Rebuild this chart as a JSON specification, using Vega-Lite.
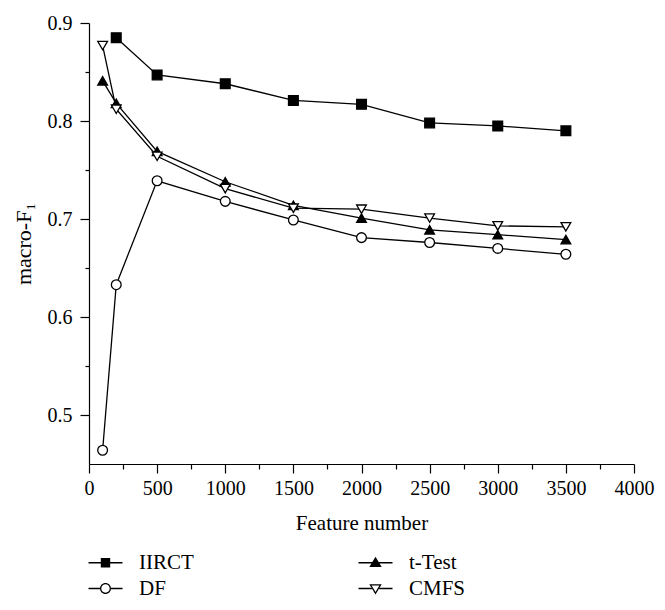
{
  "$schema": "https://vega.github.io/schema/vega-lite/v6.json",
  "autosize": {"type": "none"},
  "padding": {"left": 89, "top": 23, "right": 31, "bottom": 146},
  "width": 545,
  "height": 441,
  "background": "white",
  "config": {
    "view": {"stroke": null},
    "font": "Liberation Serif",
    "axis": {
      "domainColor": "black", "domainWidth": 1.2, "tickColor": "black", "tickWidth": 1.2,
      "labelColor": "black", "labelFont": "Liberation Serif", "labelFontSize": 20,
      "titleColor": "black", "titleFont": "Liberation Serif", "titleFontSize": 21, "titleFontWeight": "normal",
      "grid": false
    },
    "legend": {"labelFont": "Liberation Serif", "labelFontSize": 21, "labelColor": "black"}
  },
  "data": {"values": [
    {"n": 200, "v": 0.885, "s": "IIRCT"},
    {"n": 500, "v": 0.847, "s": "IIRCT"},
    {"n": 1000, "v": 0.838, "s": "IIRCT"},
    {"n": 1500, "v": 0.821, "s": "IIRCT"},
    {"n": 2000, "v": 0.817, "s": "IIRCT"},
    {"n": 2500, "v": 0.798, "s": "IIRCT"},
    {"n": 3000, "v": 0.795, "s": "IIRCT"},
    {"n": 3500, "v": 0.790, "s": "IIRCT"},
    {"n": 100, "v": 0.841, "s": "t-Test"},
    {"n": 200, "v": 0.818, "s": "t-Test"},
    {"n": 500, "v": 0.769, "s": "t-Test"},
    {"n": 1000, "v": 0.738, "s": "t-Test"},
    {"n": 1500, "v": 0.714, "s": "t-Test"},
    {"n": 2000, "v": 0.701, "s": "t-Test"},
    {"n": 2500, "v": 0.689, "s": "t-Test"},
    {"n": 3000, "v": 0.684, "s": "t-Test"},
    {"n": 3500, "v": 0.679, "s": "t-Test"},
    {"n": 100, "v": 0.464, "s": "DF"},
    {"n": 200, "v": 0.633, "s": "DF"},
    {"n": 500, "v": 0.739, "s": "DF"},
    {"n": 1000, "v": 0.718, "s": "DF"},
    {"n": 1500, "v": 0.699, "s": "DF"},
    {"n": 2000, "v": 0.681, "s": "DF"},
    {"n": 2500, "v": 0.676, "s": "DF"},
    {"n": 3000, "v": 0.670, "s": "DF"},
    {"n": 3500, "v": 0.664, "s": "DF"},
    {"n": 100, "v": 0.877, "s": "CMFS"},
    {"n": 200, "v": 0.812, "s": "CMFS"},
    {"n": 500, "v": 0.764, "s": "CMFS"},
    {"n": 1000, "v": 0.731, "s": "CMFS"},
    {"n": 1500, "v": 0.711, "s": "CMFS"},
    {"n": 2000, "v": 0.710, "s": "CMFS"},
    {"n": 2500, "v": 0.701, "s": "CMFS"},
    {"n": 3000, "v": 0.693, "s": "CMFS"},
    {"n": 3500, "v": 0.692, "s": "CMFS"}
  ]},
  "encoding": {
    "x": {
      "field": "n", "type": "quantitative", "title": "Feature number",
      "scale": {"domain": [0, 4000], "nice": false, "zero": false},
      "axis": {
        "values": [0,250,500,750,1000,1250,1500,1750,2000,2250,2500,2750,3000,3250,3500,3750,4000],
        "labelExpr": "datum.value % 500 === 0 ? format(datum.value, 'd') : ''",
        "tickSize": {"condition": {"test": "datum.value % 500 !== 0", "value": 5}, "value": 9},
        "labelPadding": 5, "labelFlush": false, "labelOverlap": false, "titlePadding": 14
      }
    },
    "y": {
      "field": "v", "type": "quantitative", "title": "macro-F₁",
      "scale": {"domain": [0.45, 0.9], "nice": false, "zero": false},
      "axis": {
        "values": [0.5,0.55,0.6,0.65,0.7,0.75,0.8,0.85,0.9],
        "labelExpr": "round(datum.value*100) % 10 === 0 ? format(datum.value, '.1f') : ''",
        "tickSize": {"condition": {"test": "round(datum.value*100) % 10 !== 0", "value": 4}, "value": 9},
        "labelPadding": 8, "labelFlush": false, "labelOverlap": false, "titlePadding": 12, "titleFontSize": 22
      }
    }
  },
  "layer": [
    {
      "mark": {"type": "line", "color": "black", "strokeWidth": 1.3},
      "encoding": {"detail": {"field": "s"}}
    },
    {
      "mark": {"type": "point", "filled": false, "stroke": "black", "strokeWidth": 1.3, "opacity": 1, "size": 95},
      "encoding": {
        "shape": {
          "field": "s", "type": "nominal", "legend": null,
          "scale": {"domain": ["IIRCT", "t-Test", "DF", "CMFS"], "range": ["square", "triangle-up", "circle", "triangle-down"]}
        },
        "fill": {
          "field": "s", "type": "nominal", "legend": null,
          "scale": {"domain": ["IIRCT", "t-Test", "DF", "CMFS"], "range": ["black", "black", "white", "white"]}
        }
      }
    },
    {
      "mark": {"type": "point", "filled": true, "fill": "black", "stroke": "black", "strokeWidth": 1.3, "opacity": 1, "size": 0},
      "encoding": {
        "shape": {
          "field": "s", "type": "nominal", "title": null,
          "scale": {"domain": ["IIRCT", "t-Test", "DF", "CMFS"], "range": [
            "M-1.7,-0.065H-0.45V0.065H-1.7ZM0.45,-0.065H1.7V0.065H0.45ZM-0.47,-0.47H0.47V0.47H-0.47Z",
            "M-1.7,-0.065H-0.3V0.065H-1.7ZM0.3,-0.065H1.7V0.065H0.3ZM0,-0.6L0.62,0.42L-0.62,0.42Z",
            "M-1.7,-0.065H-0.55V0.065H-1.7ZM0.55,-0.065H1.7V0.065H0.55ZM0.55,0A0.55,0.55 0 1,1 -0.55,0A0.55,0.55 0 1,1 0.55,0ZM0.42,0A0.42,0.42 0 1,0 -0.42,0A0.42,0.42 0 1,0 0.42,0Z",
            "M-1.7,-0.065H-0.36V0.065H-1.7ZM0.36,-0.065H1.7V0.065H0.36ZM0,0.6L0.62,-0.42L-0.62,-0.42ZM0,0.35L-0.39,-0.29L0.39,-0.29Z"
          ]},
          "legend": {
            "orient": "none", "legendX": 6, "legendY": 529, "columns": 2, "direction": "horizontal",
            "columnPadding": 164, "rowPadding": 4, "symbolSize": 400, "labelOffset": 23,
            "symbolStrokeColor": "black", "symbolFillColor": "black", "symbolStrokeWidth": 0
          }
        }
      }
    }
  ],
  "resolve": {"scale": {"shape": "independent"}}
}
